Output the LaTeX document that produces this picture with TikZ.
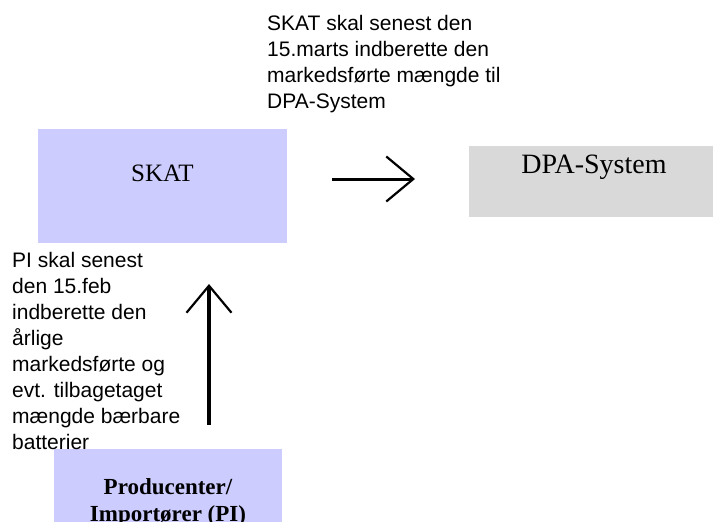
\documentclass[tikz,border=0pt]{standalone}
\usepackage{fontspec}
\setmainfont{Liberation Serif}
\newfontfamily\arial{Liberation Sans}
\usetikzlibrary{arrows.meta}
\definecolor{lilla}{RGB}{204,204,255}
\definecolor{graa}{RGB}{217,217,217}

\begin{document}
\begin{tikzpicture}[x=1pt,y={(0pt,-1pt)},
  boks/.style={inner sep=0pt,outer sep=0pt},
  tekst/.style={inner sep=0pt,anchor=north west,align=left,font=\arial\fontsize{21}{26}\selectfont},
  pil/.style={draw=black,-{Straight Barb[length=27pt,width=45pt,line width=2.2pt]}}]
\useasboundingbox (0,0) rectangle (713,522);
\clip (0,0) rectangle (713,522);
% kasser
\node [boks,fill=lilla,anchor=north west,minimum width=249pt,text height=52pt,text depth=62pt,font=\fontsize{25}{30}\selectfont] (skat) at (38,129) {SKAT};
\node [boks,fill=graa,anchor=north west,minimum width=250pt,text height=27pt,text depth=44pt,font=\fontsize{28}{32}\selectfont] (dpa) at (469,146) {DPA-System};
\node [boks,fill=lilla,anchor=north,minimum width=228pt,inner ysep=30pt,align=center,font=\bfseries\fontsize{23}{27}\selectfont] (pi) at (168,449) {Producenter/\\Import\o rer (PI)};
% tekster
\node [tekst] (tskat) at (267,15) {SKAT skal senest den\\15.marts indberette den\\markedsf\o rte m\ae ngde til\\DPA-System};
\node [tekst] (tpi) at (12,252) {PI skal senest\\den 15.feb\\indberette den\\\aa rlige\\markedsf\o rte og\\evt. tilbagetaget\\m\ae ngde b\ae rbare\\batterier};
% pile
\coordinate (h1) at (332,179);
\coordinate (h2) at (415,179);
\coordinate (o1) at (209,425);
\coordinate (o2) at (209,284);
\draw [pil,line width=3pt] (h1) -- (h2);
\draw [pil,line width=3.5pt] (o1) -- (o2);
\end{tikzpicture}
\end{document}
